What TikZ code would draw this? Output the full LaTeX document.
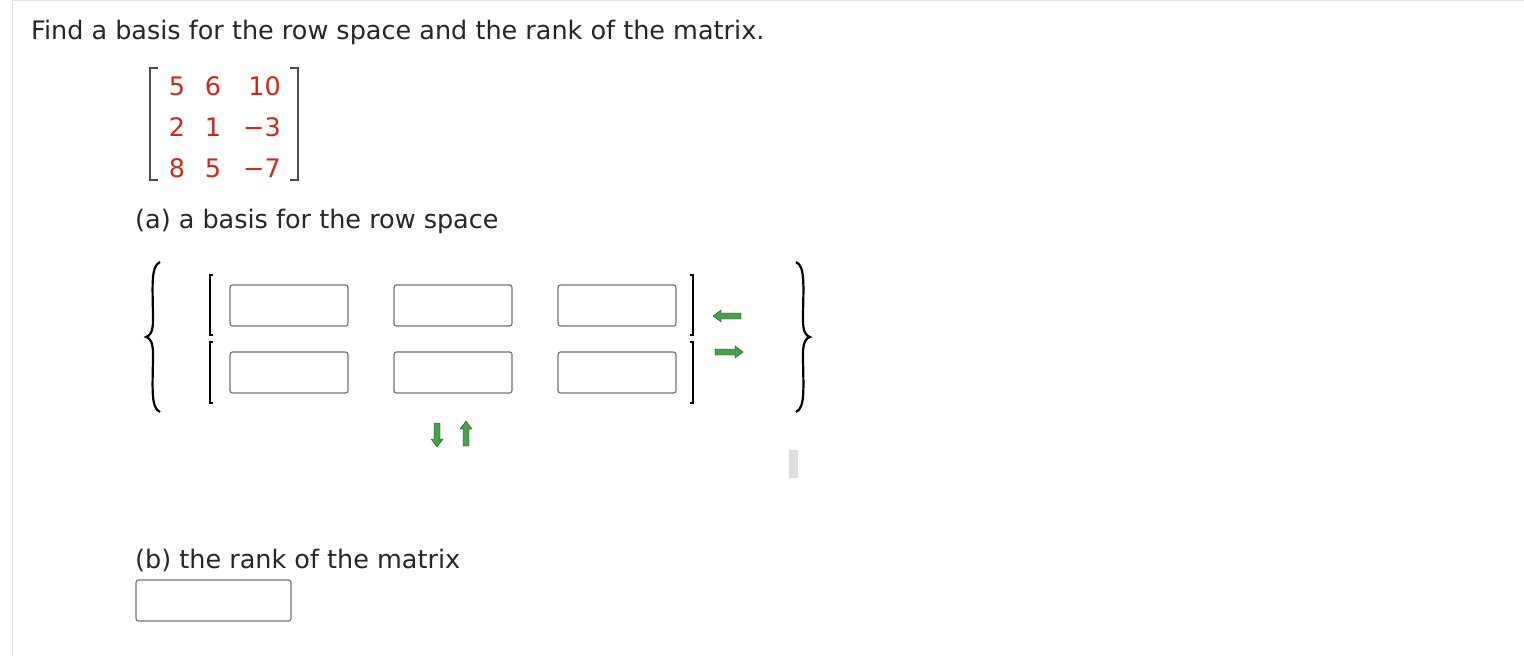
\documentclass[tikz,border=0pt]{standalone}
\usepackage{fontspec}
\setmainfont{DejaVu Sans}
\definecolor{matred}{HTML}{CC2A1E}
\begin{document}
\begin{tikzpicture}[x=1pt,y=-1pt,
  txt/.style={anchor=west,inner sep=0pt,font=\fontsize{25.5}{30}\selectfont,text=black!85},
  num/.style={inner sep=0pt,font=\fontsize{25.5}{30}\selectfont,text=matred},
  ibox/.style={draw=black!55,line width=1.2pt,rounded corners=2.5pt},
  brk/.style={draw=black,line width=1.3pt},
  grn/.style={fill=green!45!black!70,draw=green!35!black,line width=0.4pt}]
\useasboundingbox (0,0) rectangle (1524,656);
\draw[black!12,line width=1pt] (12,656) -- (12,0.5) -- (1524,0.5);
\node[txt] (title) at (31,32) {Find a basis for the row space and the rank of the matrix.};
% matrix
\draw[brk,black!70,line width=1.6pt] (158,68) -- (150,68) -- (150,180) -- (158,180);
\draw[brk,black!70,line width=1.6pt] (290,68) -- (298,68) -- (298,180) -- (290,180);
\foreach \a/\b/\c [count=\i] in {5/6/10,2/1/{−3},8/5/{−7}}{
  \node[num] (m\i a) at (177,{45+41*\i}) {\a};
  \node[num] (m\i b) at (213,{45+41*\i}) {\b};
  \node[num,anchor=east] (m\i c) at (281,{45+41*\i}) {\c};
}
\node[txt] (pa) at (135,221) {(a) a basis for the row space};
% braces
\draw[line width=2.2pt] (160,262) .. controls (150,266) and (153,290) .. (153,320) .. controls (153,332) and (150,336) .. (146,337) .. controls (150,338) and (153,342) .. (153,354) .. controls (153,384) and (150,408) .. (160,412);
\draw[line width=2.2pt] (796,262) .. controls (806,266) and (803,290) .. (803,320) .. controls (803,332) and (806,336) .. (810,337) .. controls (806,338) and (803,342) .. (803,354) .. controls (803,384) and (806,408) .. (796,412);
% brackets
\foreach \t/\bt in {275/335,342/403}{
  \draw[brk] (213,\t) -- (210,\t) -- (210,\bt) -- (213,\bt);
  \draw[brk] (690,\t) -- (693,\t) -- (693,\bt) -- (690,\bt);
}
\foreach \r/\y in {1/285,2/352}
  \foreach \c/\x in {1/230,2/394,3/558}
    \draw[ibox] (\x,\y) rectangle ++(118,41) node[pos=.5,inner sep=0pt] (b\r\c) {};
% arrows
\fill[grn] (713,316) -- (721,310) -- (721,313) -- (741,313) -- (741,319) -- (721,319) -- (721,322) -- cycle;
\fill[grn] (743,352) -- (735,346) -- (735,349) -- (715,349) -- (715,355) -- (735,355) -- (735,358) -- cycle;
\fill[grn] (437,447) -- (431,439) -- (434,439) -- (434,423) -- (440,423) -- (440,439) -- (443,439) -- cycle;
\fill[grn] (466,421) -- (460,429) -- (463,429) -- (463,446) -- (469,446) -- (469,429) -- (472,429) -- cycle;
\fill[black!13] (789,450) rectangle (798,478);
\node[txt] (pb) at (135,560) {(b) the rank of the matrix};
\draw[ibox] (136,580) rectangle (291,621);
\end{tikzpicture}
\end{document}
